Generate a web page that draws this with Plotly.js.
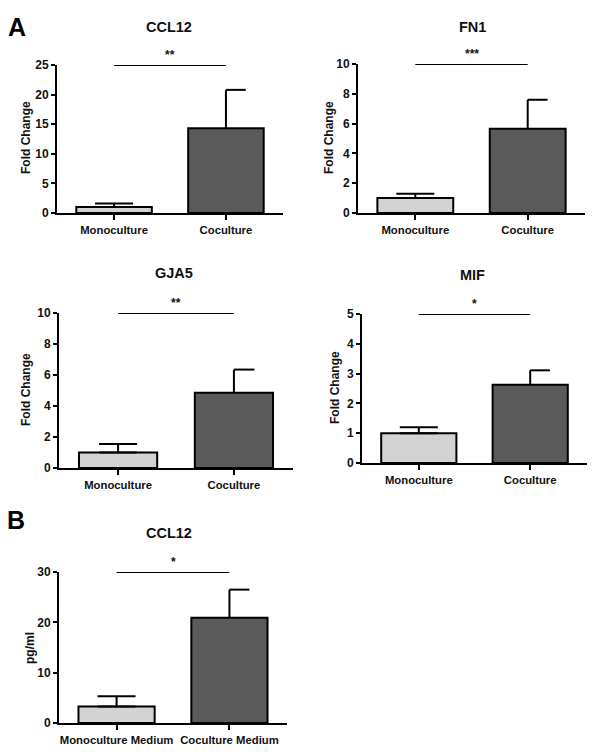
<!DOCTYPE html>
<html>
<head>
<meta charset="utf-8">
<script src="https://cdn.plot.ly/plotly-3.0.1.min.js"></script>
<style>html,body{margin:0;padding:0;background:#fff;}#chart{width:600px;height:752px;}</style>
</head>
<body>
<div id="chart"></div>
<script>
// ---- data ----
const categoriesA = ['Monoculture', 'Coculture'];
const categoriesB = ['Monoculture Medium', 'Coculture Medium'];
const panelTitles = ['CCL12', 'FN1', 'GJA5', 'MIF', 'CCL12'];
const yTitles = ['Fold Change', 'Fold Change', 'Fold Change', 'Fold Change', 'pg/ml'];
const significance = ['**', '***', '**', '*', '*'];
const yMax = [25, 10, 10, 5, 30];
const yStep = [5, 2, 2, 1, 10];

const ccl12Mean = [1.0, 14.3];
const ccl12Sem = [0.6, 6.5];
const fn1Mean = [1.0, 5.65];
const fn1Sem = [0.3, 1.95];
const gja5Mean = [1.0, 4.85];
const gja5Sem = [0.55, 1.5];
const mifMean = [1.0, 2.63];
const mifSem = [0.2, 0.48];
const ccl12MediumMean = [3.3, 20.9];
const ccl12MediumSem = [2.0, 5.6];

// ---- layout helpers (pixel boxes for each panel) ----
const W = 600, H = 752;
const boxes = [
  {x0: 57, x1: 283, y0: 65, y1: 213},
  {x0: 358, x1: 585, y0: 64, y1: 213},
  {x0: 59, x1: 293, y0: 313, y1: 468},
  {x0: 362, x1: 587, y0: 314, y1: 463},
  {x0: 59, x1: 287, y0: 572, y1: 723}
];
const titlePos = [[169, 27], [472, 27], [174, 273], [472, 275], [169, 533]];
const yTitlePos = [[26, 138], [329, 138], [26, 390], [335, 388], [30, 648]];

const FONT = 'Liberation Sans, Arial, sans-serif';
const monoColor = '#d3d3d3';
const cocuColor = '#5a5a5a';

const panels = [
  {cats: categoriesA, mean: ccl12Mean, sem: ccl12Sem},
  {cats: categoriesA, mean: fn1Mean, sem: fn1Sem},
  {cats: categoriesA, mean: gja5Mean, sem: gja5Sem},
  {cats: categoriesA, mean: mifMean, sem: mifSem},
  {cats: categoriesB, mean: ccl12MediumMean, sem: ccl12MediumSem}
];

const traces = [];
const layout = {
  width: W, height: H,
  margin: {l: 0, r: 0, t: 0, b: 0},
  paper_bgcolor: '#fff', plot_bgcolor: '#fff',
  showlegend: false,
  font: {family: FONT, color: '#111'},
  annotations: [],
  bargap: 0
};

const px = v => v / W;
const py = v => 1 - v / H;
const bold = s => '<b>' + s + '</b>';

panels.forEach((p, i) => {
  const n = i + 1;
  const sfx = n === 1 ? '' : String(n);
  const xa = 'x' + sfx;
  const ya = 'y' + sfx;
  const b = boxes[i];
  const barW = 0.675;
  const capHalf = 0.177;
  // mono bar
  traces.push({
    type: 'bar', x: [0], y: [p.mean[0]], width: [barW], xaxis: xa, yaxis: ya,
    marker: {color: monoColor, line: {color: '#000', width: 2}},
    error_y: {type: 'data', array: [p.sem[0]], arrayminus: [0], symmetric: false, color: '#000', thickness: 2, width: 19},
    hoverinfo: 'none'
  });
  // coculture bar
  traces.push({
    type: 'bar', x: [1], y: [p.mean[1]], width: [barW], xaxis: xa, yaxis: ya,
    marker: {color: cocuColor, line: {color: '#000', width: 2}},
    error_y: {type: 'data', array: [p.sem[1]], arrayminus: [0], symmetric: false, color: '#000', thickness: 2, width: 0},
    hoverinfo: 'none'
  });
  // half cap on coculture error bar
  const top = p.mean[1] + p.sem[1];
  traces.push({
    type: 'scatter', mode: 'lines', x: [1, 1 + capHalf], y: [top, top], xaxis: xa, yaxis: ya,
    line: {color: '#000', width: 2}, cliponaxis: false, hoverinfo: 'none'
  });
  // significance line
  traces.push({
    type: 'scatter', mode: 'lines', x: [0, 1], y: [yMax[i], yMax[i]], xaxis: xa, yaxis: ya,
    line: {color: '#000', width: 2}, cliponaxis: false, hoverinfo: 'none'
  });

  const tickvals = [];
  for (let v = 0; v <= yMax[i] + 1e-9; v += yStep[i]) tickvals.push(v);

  layout['xaxis' + sfx] = {
    domain: [px(b.x0), px(b.x1)], anchor: ya,
    range: [-0.51, 1.51], tickvals: [0, 1], ticktext: p.cats.map(bold),
    showline: true, linecolor: '#000', linewidth: 2, zeroline: false, showgrid: false,
    ticks: 'outside', ticklen: 5, tickwidth: 2, tickcolor: '#000',
    tickfont: {family: FONT, size: 11.3, color: '#111'},
    fixedrange: true
  };
  layout['yaxis' + sfx] = {
    domain: [py(b.y1), py(b.y0)], anchor: xa,
    range: [0, yMax[i]], tickvals: tickvals, ticktext: tickvals.map(v => bold(String(v))),
    showline: true, linecolor: '#000', linewidth: 2, zeroline: false, showgrid: false,
    ticks: 'outside', ticklen: 4, tickwidth: 2, tickcolor: '#000',
    tickfont: {family: FONT, size: 12, color: '#111'},
    fixedrange: true
  };

  // stars
  layout.annotations.push({
    xref: xa, yref: ya, x: 0.5, y: yMax[i], text: bold(significance[i]),
    showarrow: false, yanchor: 'bottom', yshift: 1,
    font: {family: FONT, size: 12, color: '#111'}
  });
  // panel title
  layout.annotations.push({
    xref: 'paper', yref: 'paper', x: px(titlePos[i][0]), y: py(titlePos[i][1]),
    text: bold(panelTitles[i]), showarrow: false, xanchor: 'center', yanchor: 'middle',
    font: {family: FONT, size: 14.5, color: '#111'}
  });
  // y-axis title
  layout.annotations.push({
    xref: 'paper', yref: 'paper', x: px(yTitlePos[i][0]), y: py(yTitlePos[i][1]),
    text: bold(yTitles[i]), showarrow: false, textangle: -90,
    xanchor: 'center', yanchor: 'middle',
    font: {family: FONT, size: 12, color: '#111'}
  });
});

// panel letters
layout.annotations.push({
  xref: 'paper', yref: 'paper', x: px(17), y: py(27), text: bold('A'), showarrow: false,
  xanchor: 'center', yanchor: 'middle', font: {family: FONT, size: 25, color: '#000'}
});
layout.annotations.push({
  xref: 'paper', yref: 'paper', x: px(16), y: py(520), text: bold('B'), showarrow: false,
  xanchor: 'center', yanchor: 'middle', font: {family: FONT, size: 25, color: '#000'}
});

Plotly.newPlot('chart', traces, layout, {staticPlot: true, displayModeBar: false});
</script>
</body>
</html>
